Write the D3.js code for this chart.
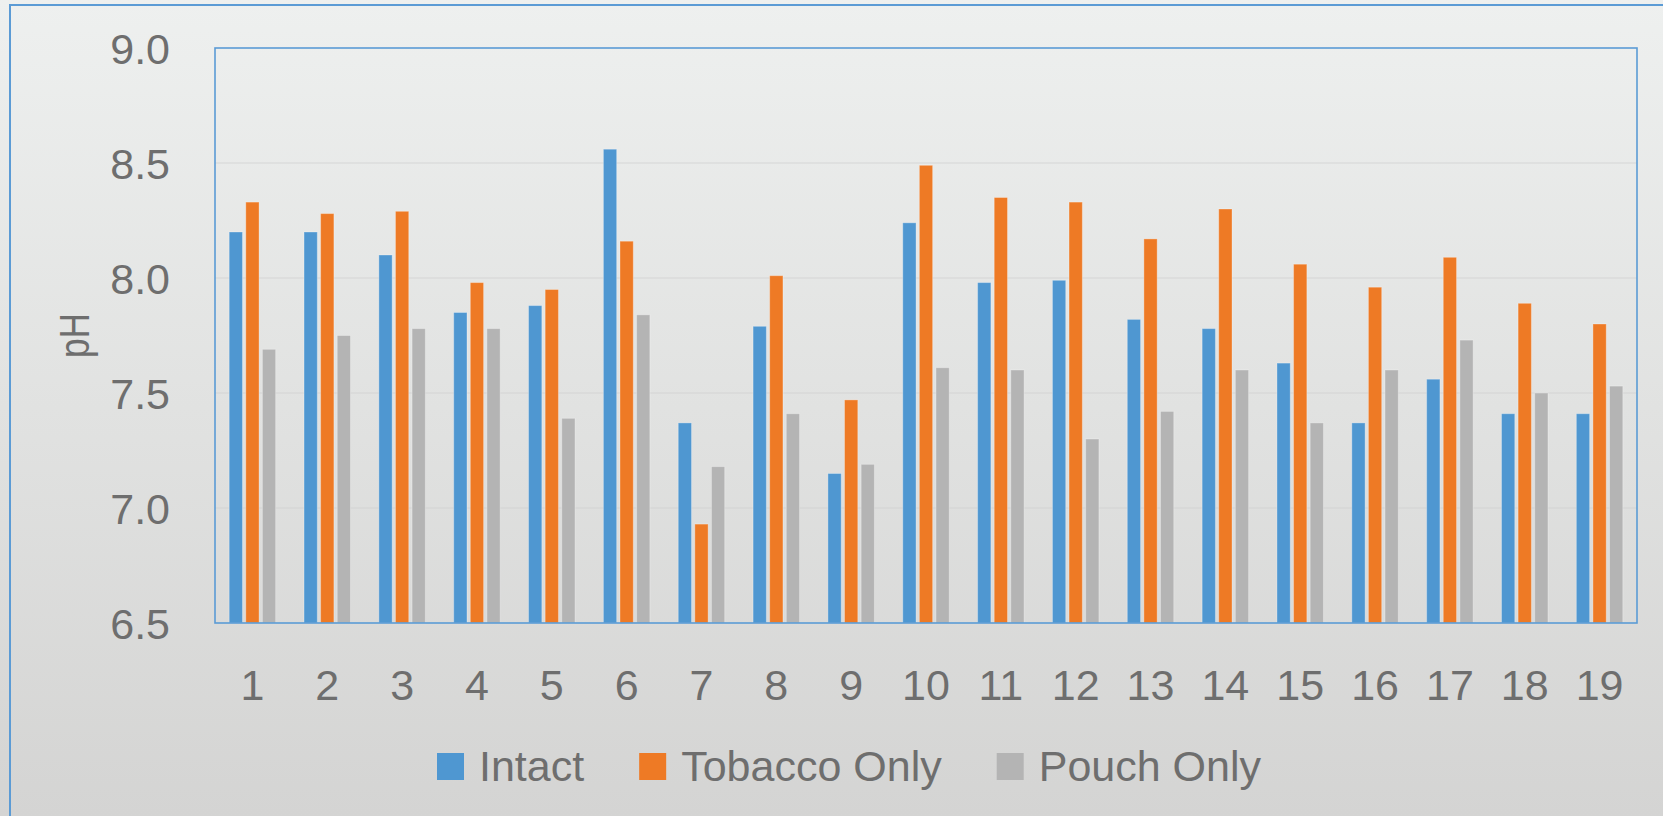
<!DOCTYPE html>
<html>
<head>
<meta charset="utf-8">
<script src="https://cdn.jsdelivr.net/npm/d3@7"></script>
<style>
  html, body { margin: 0; padding: 0; background: #e4e5e4; }
  svg { display: block; }
  text { font-family: "Liberation Sans", Arial, sans-serif; fill: #6e6e6e; }
</style>
</head>
<body>
<svg id="chart" width="1663" height="816"></svg>
<script>
// Sample numbers along the x axis
const categories = ["1","2","3","4","5","6","7","8","9","10","11","12","13","14","15","16","17","18","19"];

// pH per sample for each preparation
const intact      = [8.20, 8.20, 8.10, 7.85, 7.88, 8.56, 7.37, 7.79, 7.15, 8.24, 7.98, 7.99, 7.82, 7.78, 7.63, 7.37, 7.56, 7.41, 7.41];
const tobaccoOnly = [8.33, 8.28, 8.29, 7.98, 7.95, 8.16, 6.93, 8.01, 7.47, 8.49, 8.35, 8.33, 8.17, 8.30, 8.06, 7.96, 8.09, 7.89, 7.80];
const pouchOnly   = [7.69, 7.75, 7.78, 7.78, 7.39, 7.84, 7.18, 7.41, 7.19, 7.61, 7.60, 7.30, 7.42, 7.60, 7.37, 7.60, 7.73, 7.50, 7.53];

const seriesNames  = ["Intact", "Tobacco Only", "Pouch Only"];
const seriesColors = ["#4f97d1", "#ee7a25", "#b4b4b4"];
const yTicks = [6.5, 7.0, 7.5, 8.0, 8.5, 9.0];
const yTitle = "pH";

const series = [intact, tobaccoOnly, pouchOnly];

const W = 1663, H = 816;
const plot = { left: 215, right: 1637, top: 48, bottom: 623 };

const svg = d3.select("#chart");

// soft vertical background gradient
const defs = svg.append("defs");
const grad = defs.append("linearGradient")
  .attr("id", "bg").attr("x1", 0).attr("y1", 0).attr("x2", 0).attr("y2", 1);
grad.append("stop").attr("offset", "0%").attr("stop-color", "#eef0ef");
grad.append("stop").attr("offset", "100%").attr("stop-color", "#d4d4d3");
svg.append("rect").attr("width", W).attr("height", H).attr("fill", "url(#bg)");

// chart frame (runs off the right and bottom edges)
svg.append("path")
  .attr("d", `M10,${H + 5} L10,5 L${W + 5},5`)
  .attr("fill", "none").attr("stroke", "#5b9bd5").attr("stroke-width", 2);

const x = d3.scaleBand()
  .domain(categories)
  .range([plot.left, plot.right])
  .paddingInner(0.379)
  .paddingOuter(0.1895);

const xs = d3.scaleBand()
  .domain(d3.range(series.length))
  .range([0, x.bandwidth()])
  .paddingInner(0.2);

const y = d3.scaleLinear().domain([6.5, 9.0]).range([plot.bottom, plot.top]);

// horizontal gridlines
svg.append("g")
  .selectAll("line")
  .data(yTicks.filter(t => t > 6.5 && t < 9.0))
  .join("line")
  .attr("x1", plot.left).attr("x2", plot.right)
  .attr("y1", d => y(d)).attr("y2", d => y(d))
  .attr("stroke", "#d2d2d2").attr("stroke-opacity", 0.55).attr("stroke-width", 1.5);

// bars
const rows = categories.map((c, i) => ({ c, vals: series.map(s => s[i]) }));
svg.append("g")
  .selectAll("g")
  .data(rows)
  .join("g")
  .attr("transform", d => `translate(${x(d.c)},0)`)
  .selectAll("rect")
  .data(d => d.vals.map((v, k) => ({ v, k })))
  .join("rect")
  .attr("x", d => xs(d.k))
  .attr("width", xs.bandwidth())
  .attr("y", d => y(d.v))
  .attr("height", d => y(6.5) - y(d.v))
  .attr("fill", d => seriesColors[d.k])
  .attr("stroke", "rgba(255,255,255,0.3)")
  .attr("stroke-width", 1);

// plot area border
svg.append("rect")
  .attr("x", plot.left).attr("y", plot.top)
  .attr("width", plot.right - plot.left).attr("height", plot.bottom - plot.top)
  .attr("fill", "none").attr("stroke", "#5b9bd5").attr("stroke-width", 1.6);

// y axis labels
const yAxis = d3.axisLeft(y).tickValues(yTicks).tickFormat(d3.format(".1f")).tickSize(0).tickPadding(0);
const gy = svg.append("g").attr("transform", "translate(170,0)").call(yAxis);
gy.select(".domain").remove();
gy.selectAll("text")
  .attr("font-size", 43)
  .attr("font-family", "Liberation Sans, Arial, sans-serif")
  .attr("fill", "#6e6e6e")
  .attr("dy", "0.35em");

// x axis labels
const xAxis = d3.axisBottom(x).tickSize(0).tickPadding(0);
const gx = svg.append("g").attr("transform", "translate(0,700)").call(xAxis);
gx.select(".domain").remove();
gx.selectAll("text")
  .attr("font-size", 43)
  .attr("font-family", "Liberation Sans, Arial, sans-serif")
  .attr("fill", "#6e6e6e")
  .attr("y", 0)
  .attr("dy", 0);

// y axis title (slightly condensed along its baseline)
svg.append("text")
  .attr("transform", `translate(89,${(plot.top + plot.bottom) / 2}) rotate(-90) scale(0.84,1)`)
  .attr("text-anchor", "middle")
  .attr("font-size", 42)
  .text(yTitle);

// legend
const legend = svg.append("g");
let lx = 437;
seriesNames.forEach((name, k) => {
  legend.append("rect")
    .attr("x", lx).attr("y", 753)
    .attr("width", 27).attr("height", 27)
    .attr("fill", seriesColors[k]);
  const t = legend.append("text")
    .attr("x", lx + 42).attr("y", 781)
    .attr("font-size", 43)
    .text(name);
  lx = lx + 42 + t.node().getComputedTextLength() + 55;
});
</script>
</body>
</html>
